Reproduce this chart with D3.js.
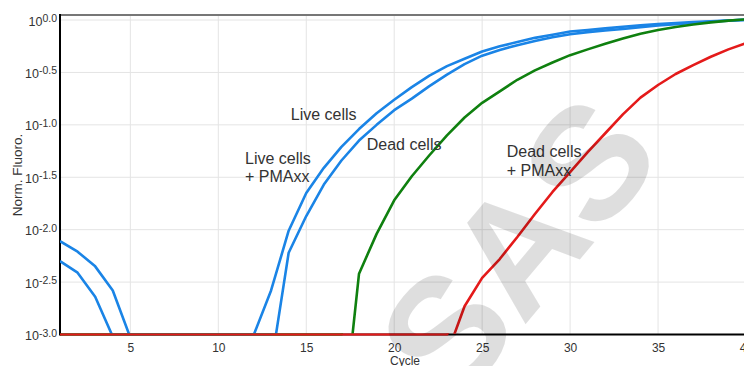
<!DOCTYPE html>
<html>
<head>
<meta charset="utf-8">
<script src="https://cdn.jsdelivr.net/npm/d3@7"></script>
<style>
  body { margin: 0; background: #fff; }
  svg { display: block; font-family: "Liberation Sans Narrow", "Arial Narrow", "Liberation Sans", Arial, sans-serif; }
</style>
</head>
<body>
<div id="chart"></div>
<script>
// cycle numbers, one reading per cycle
const cycles = [1, 2, 3, 4, 5, 6, 7, 8, 9, 10, 11, 12, 13, 14, 15, 16, 17, 18, 19, 20,
  21, 22, 23, 24, 25, 26, 27, 28, 29, 30, 31, 32, 33, 34, 35, 36, 37, 38, 39, 40]

// log10 of Norm. Fluoro. (below -3.0 sits under the axis)
const liveCells = [-2.11, -2.21, -2.35, -2.58, -3.03, -3.1, -3.1, -3.1, -3.1, -3.1, -3.1, -3.01,
  -2.58, -2.01, -1.65, -1.41, -1.21, -1.04, -0.89, -0.76, -0.64, -0.53, -0.44, -0.37, -0.30,
  -0.25, -0.21, -0.17, -0.14, -0.11, -0.095, -0.08, -0.064, -0.05, -0.038, -0.029, -0.019,
  -0.011, -0.004, 0.002]
const liveCellsPMAxx = [-2.30, -2.41, -2.64, -3.02, -3.3, -3.3, -3.3, -3.3, -3.3, -3.3, -3.3, -3.3,
  -3.30, -2.22, -1.87, -1.57, -1.34, -1.15, -1.00, -0.86, -0.75, -0.63, -0.52, -0.42, -0.34,
  -0.285, -0.24, -0.20, -0.165, -0.135, -0.115, -0.10, -0.085, -0.068, -0.052, -0.04, -0.027,
  -0.016, -0.006, 0.002]
const deadCells = [-3.5, -3.5, -3.5, -3.5, -3.5, -3.5, -3.5, -3.5, -3.5, -3.5, -3.5, -3.5,
  -3.5, -3.5, -3.5, -3.5, -3.99, -2.42, -2.04, -1.72, -1.49, -1.29, -1.10, -0.93, -0.79,
  -0.68, -0.57, -0.48, -0.405, -0.335, -0.28, -0.226, -0.176, -0.13, -0.095, -0.067, -0.043,
  -0.022, -0.006, 0.006]
const deadCellsPMAxx = [-3.5, -3.5, -3.5, -3.5, -3.5, -3.5, -3.5, -3.5, -3.5, -3.5, -3.5, -3.5,
  -3.5, -3.5, -3.5, -3.5, -3.5, -3.5, -3.5, -3.5, -3.5, -3.5, -3.19, -2.73, -2.46,
  -2.28, -2.07, -1.85, -1.64, -1.45, -1.26, -1.08, -0.90, -0.74, -0.62, -0.515, -0.43,
  -0.35, -0.28, -0.22]

const xTicks = [5, 10, 15, 20, 25, 30, 35, 40]
const yTicks = [-3, -2.5, -2, -1.5, -1, -0.5, 0]
const yTickLabels = ['-3.0', '-2.5', '-2.0', '-1.5', '-1.0', '-0.5', '0.0']

const W = 744, H = 366
const margin = { top: 15, right: -2, bottom: 31.5, left: 60 }
const width = W - margin.left - margin.right
const height = H - margin.top - margin.bottom

const svg = d3.select('#chart').append('svg')
  .attr('width', W)
  .attr('height', H)

const g = svg.append('g')
  .attr('transform', `translate(${margin.left},${margin.top})`)

const x = d3.scaleLinear().domain([1, 40]).range([0, width])
const y = d3.scaleLinear().domain([-3, 0.048]).range([height, 0])
const yBase = y.copy().clamp(true)

// clip areas: plot above the baseline, and a thin strip along the baseline
const defs = svg.append('defs')
defs.append('clipPath').attr('id', 'plot-clip')
  .append('rect')
  .attr('x', 0).attr('y', -2)
  .attr('width', width).attr('height', height + 1.3)
defs.append('clipPath').attr('id', 'base-clip')
  .append('rect')
  .attr('x', 0).attr('y', height - 1.3)
  .attr('width', width).attr('height', 2.6)

// grid
g.append('g')
  .selectAll('line')
  .data(yTicks)
  .enter().append('line')
  .attr('x1', 0).attr('x2', width)
  .attr('y1', d => y(d)).attr('y2', d => y(d))
  .attr('stroke', '#e4e4e4')

g.append('g')
  .selectAll('line')
  .data(xTicks)
  .enter().append('line')
  .attr('x1', d => x(d)).attr('x2', d => x(d))
  .attr('y1', 0).attr('y2', height)
  .attr('stroke', '#e4e4e4')

// watermark
svg.append('text')
  .attr('transform', 'translate(516,246) rotate(-50)')
  .attr('text-anchor', 'middle')
  .attr('dy', '0.36em')
  .attr('font-family', '"Liberation Sans", Arial, sans-serif')
  .attr('font-weight', 'bold')
  .attr('font-size', 160)
  .attr('fill', '#000')
  .attr('fill-opacity', 0.13)
  .text('SAS')

// axes
const xAxis = d3.axisBottom(x).tickValues(xTicks).tickSize(0).tickPadding(9.3)
const gx = g.append('g')
  .attr('transform', `translate(0,${height})`)
  .call(xAxis)
gx.select('.domain').remove()
gx.selectAll('text')
  .attr('font-family', null)
  .attr('font-size', 12)
  .attr('fill', '#333')

const yAxis = d3.axisLeft(y).tickValues(yTicks).tickSize(0).tickPadding(3)
const gy = g.append('g').call(yAxis)
gy.select('.domain').remove()
gy.selectAll('.tick text')
  .attr('font-family', null)
  .attr('fill', '#333')
  .attr('dy', 5)
  .each(function (d, i) {
    const t = d3.select(this)
    t.text(null)
    t.append('tspan').attr('font-size', 12.5).text('10')
    t.append('tspan').attr('font-size', 10.5).attr('dy', -3.5).text(yTickLabels[i])
  })

g.append('line')
  .attr('x1', 0).attr('x2', width)
  .attr('y1', 0).attr('y2', 0)
  .attr('stroke', '#777').attr('stroke-width', 2)
g.append('line')
  .attr('x1', 0).attr('x2', 0)
  .attr('y1', -1).attr('y2', height + 1)
  .attr('stroke', '#000').attr('stroke-width', 2)
g.append('line')
  .attr('x1', 0).attr('x2', width)
  .attr('y1', height).attr('y2', height)
  .attr('stroke', '#000').attr('stroke-width', 2)

svg.append('text')
  .attr('x', 405).attr('y', 365)
  .attr('text-anchor', 'middle')
  .attr('font-size', 12)
  .attr('fill', '#333')
  .text('Cycle')

svg.append('text')
  .attr('transform', 'translate(21.5,175) rotate(-90)')
  .attr('text-anchor', 'middle')
  .attr('font-size', 13.5)
  .attr('fill', '#333')
  .text('Norm. Fluoro.')

// curves
const series = [
  { values: liveCells, color: '#1a84e6' },
  { values: liveCellsPMAxx, color: '#1a84e6' },
  { values: deadCells, color: '#0f800f' },
  { values: deadCellsPMAxx, color: '#e41a1a' }
]

const line = d3.line()
  .x((d, i) => x(cycles[i]))
  .y(d => y(d))
const baseLine = d3.line()
  .x((d, i) => x(cycles[i]))
  .y(d => yBase(d))

series.forEach(s => {
  g.append('path')
    .datum(s.values)
    .attr('clip-path', 'url(#plot-clip)')
    .attr('fill', 'none')
    .attr('stroke', s.color)
    .attr('stroke-width', 2.6)
    .attr('stroke-linejoin', 'round')
    .attr('d', line)
  g.append('path')
    .datum(s.values)
    .attr('clip-path', 'url(#base-clip)')
    .attr('fill', 'none')
    .attr('stroke', s.color)
    .attr('stroke-width', 2.6)
    .attr('d', baseLine)
})

// annotations
const notes = [
  { lines: ['Live cells'], c: 14.12, v: -0.95 },
  { lines: ['Live cells', '+ PMAxx'], c: 11.52, v: -1.37 },
  { lines: ['Dead cells'], c: 18.44, v: -1.24 },
  { lines: ['Dead cells', '+ PMAxx'], c: 26.4, v: -1.31 }
]
notes.forEach(n => {
  const t = g.append('text')
    .attr('font-size', 16)
    .attr('fill', '#333')
  n.lines.forEach((l, i) => {
    t.append('tspan')
      .attr('x', x(n.c))
      .attr('y', y(n.v) + i * 18.7)
      .text(l)
  })
})
</script>
</body>
</html>
